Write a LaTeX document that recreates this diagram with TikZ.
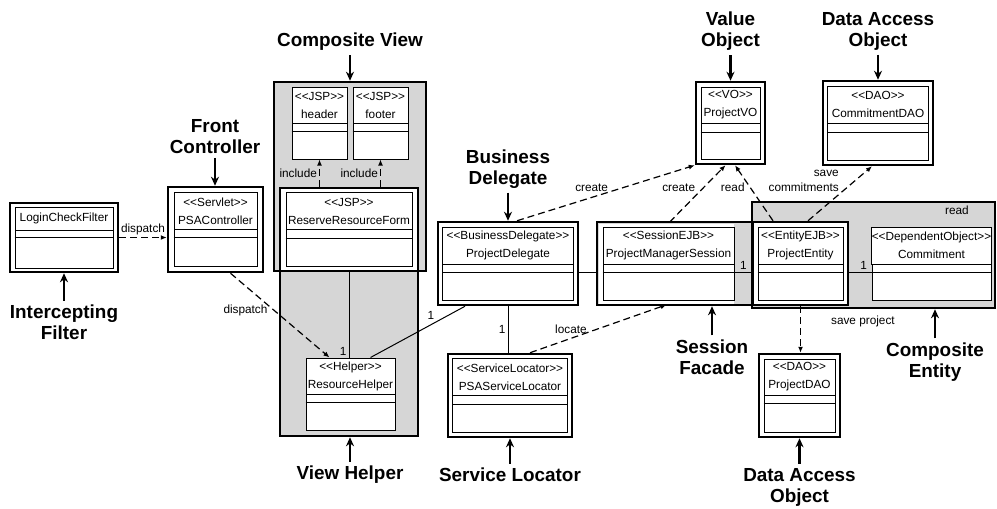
\documentclass[tikz,border=0pt]{standalone}
\usepackage{fontspec}
\setmainfont{Liberation Sans}
\usepackage{tikz}
\usetikzlibrary{arrows.meta, positioning}
\definecolor{patgray}{RGB}{214,214,214}
\newcommand{\classfont}{\fontsize{11.8}{18}\selectfont}
\newcommand{\confont}{\fontsize{11.8}{15}\selectfont}
\newcommand{\patfont}{\fontsize{18.9}{21}\selectfont\bfseries}
\newcommand{\stereo}[1]{<\kern0pt<#1>\kern0pt>}
\tikzset{
  patbox/.style={rectangle, draw=black, fill=patgray, line width=2.5pt, inner sep=0pt},
  classframe/.style={rectangle, draw=black, fill=white, line width=2.5pt, inner sep=0pt},
  classbox/.style={rectangle, draw=black, fill=white, line width=1pt, inner sep=0pt},
  namebox/.style={rectangle, draw=black, fill=white, line width=1pt, inner sep=0pt,
    align=center, font=\classfont},
  divider/.style={line width=1pt},
  patlabel/.style={align=center, font=\patfont, inner sep=4pt},
  conlabel/.style={font=\confont, inner sep=2pt},
  patarrow/.style={-{Stealth[length=9pt, width=8pt]}, line width=2.5pt},
  dep/.style={-{Latex[length=6pt, width=5pt]}, dash pattern=on 7pt off 4pt, line width=1.2pt},
  assoc/.style={line width=1pt}
}

\begin{document}
\begin{tikzpicture}[x=1pt, y=-1pt]
  \useasboundingbox (0,0) rectangle (997,509);

  % Pattern regions
  \node[patbox, minimum width=152pt, minimum height=189pt] (compview) at (350,176.5) {};
  \node[patbox, minimum width=138pt, minimum height=248pt] (viewhelper) at (349,312) {};
  \node[patbox, minimum width=251pt, minimum height=83pt] (facade) at (722.5,263.5) {};
  \node[patbox, minimum width=243pt, minimum height=106pt] (compentity) at (873.5,255) {};

  % Intercepting filter
  \node[classframe, minimum width=108pt, minimum height=69pt] (filter) at (64,237.5) {};
  \node[classbox, minimum width=98pt, minimum height=61pt] (filter-in) at (filter.center) {};
  \node[namebox, minimum width=98pt, minimum height=23pt, anchor=north] (filter-name) at (filter-in.north) {LoginCheckFilter};
  \draw[divider] ([yshift=-7pt]filter-name.south west) -- ([yshift=-7pt]filter-name.south east);

  % Front controller
  \node[classframe, minimum width=95pt, minimum height=85pt] (psactrl) at (215.5,229.5) {};
  \node[classbox, minimum width=83pt, minimum height=74pt] (psactrl-in) at (psactrl.center) {};
  \node[namebox, minimum width=83pt, minimum height=37pt, anchor=north] (psactrl-name) at (psactrl-in.north) {\stereo{Servlet}\\PSAController};
  \draw[divider] ([yshift=-7pt]psactrl-name.south west) -- ([yshift=-7pt]psactrl-name.south east);

  % Composite view: header and footer
  \node[classbox, minimum width=55pt, minimum height=72pt] (header) at (319.5,123) {};
  \node[namebox, minimum width=55pt, minimum height=36pt, anchor=north] (header-name) at (header.north) {\stereo{JSP}\\header};
  \draw[divider] ([yshift=-8pt]header-name.south west) -- ([yshift=-8pt]header-name.south east);
  \node[classbox, minimum width=55pt, minimum height=72pt] (footer) at (380.5,123) {};
  \node[namebox, minimum width=55pt, minimum height=36pt, anchor=north] (footer-name) at (footer.north) {\stereo{JSP}\\footer};
  \draw[divider] ([yshift=-8pt]footer-name.south west) -- ([yshift=-8pt]footer-name.south east);

  % JSP form
  \node[classframe, minimum width=138pt, minimum height=83pt] (form) at (349,229.5) {};
  \node[classbox, minimum width=126pt, minimum height=74pt] (form-in) at (form.center) {};
  \node[namebox, minimum width=126pt, minimum height=37pt, anchor=north] (form-name) at (form-in.north) {\stereo{JSP}\\ReserveResourceForm};
  \draw[divider] ([yshift=-8pt]form-name.south west) -- ([yshift=-8pt]form-name.south east);

  % View helper
  \node[classbox, minimum width=89pt, minimum height=72pt] (helper) at (350.5,394) {};
  \node[namebox, minimum width=89pt, minimum height=36pt, anchor=north] (helper-name) at (helper.north) {\stereo{Helper}\\ResourceHelper};
  \draw[divider] ([yshift=-8pt]helper-name.south west) -- ([yshift=-8pt]helper-name.south east);

  % Business delegate
  \node[classframe, minimum width=140pt, minimum height=83pt] (pdel) at (508,263.5) {};
  \node[classbox, minimum width=131pt, minimum height=73pt] (pdel-in) at (pdel.center) {};
  \node[namebox, minimum width=131pt, minimum height=37pt, anchor=north] (pdel-name) at (pdel-in.north) {\stereo{BusinessDelegate}\\ProjectDelegate};
  \draw[divider] ([yshift=-8pt]pdel-name.south west) -- ([yshift=-8pt]pdel-name.south east);

  % Service locator
  \node[classframe, minimum width=124pt, minimum height=83pt] (locator) at (510,395.5) {};
  \node[classbox, minimum width=115pt, minimum height=74pt] (locator-in) at (locator.center) {};
  \node[namebox, minimum width=115pt, minimum height=37pt, anchor=north] (locator-name) at (locator-in.north) {\stereo{ServiceLocator}\\PSAServiceLocator};
  \draw[divider] ([yshift=-8pt]locator-name.south west) -- ([yshift=-8pt]locator-name.south east);

  % Session facade
  \node[classframe, draw=none, minimum width=135pt, minimum height=80pt] (session) at (666.5,263.5) {};
  \node[classbox, minimum width=131pt, minimum height=73pt] (session-in) at ([xshift=2pt]session.center) {};
  \node[namebox, minimum width=131pt, minimum height=37pt, anchor=north] (session-name) at (session-in.north) {\stereo{SessionEJB}\\ProjectManagerSession};
  \draw[divider] ([yshift=-8pt]session-name.south west) -- ([yshift=-8pt]session-name.south east);

  % Composite entity
  \node[classframe, minimum width=95pt, minimum height=83pt] (entity) at (800.5,263.5) {};
  \node[classbox, minimum width=85pt, minimum height=73pt] (entity-in) at (entity.center) {};
  \node[namebox, minimum width=85pt, minimum height=37pt, anchor=north] (entity-name) at (entity-in.north) {\stereo{EntityEJB}\\ProjectEntity};
  \draw[divider] ([yshift=-8pt]entity-name.south west) -- ([yshift=-8pt]entity-name.south east);
  \node[classbox, minimum width=119pt, minimum height=73pt] (commit) at (931.5,263.5) {};
  \node[namebox, minimum width=119pt, minimum height=37pt, anchor=north] (commit-name) at (commit.north) {\stereo{DependentObject}\\Commitment};
  \draw[divider] ([yshift=-8pt]commit-name.south west) -- ([yshift=-8pt]commit-name.south east);
  \node[conlabel] (readlbl) at (957,210) {read};

  % Value object
  \node[classframe, minimum width=69pt, minimum height=82pt] (vo) at (730.5,123) {};
  \node[classbox, minimum width=59pt, minimum height=72pt] (vo-in) at (vo.center) {};
  \node[namebox, minimum width=59pt, minimum height=36pt, anchor=north] (vo-name) at (vo-in.north) {\stereo{VO}\\ProjectVO};
  \draw[divider] ([yshift=-9pt]vo-name.south west) -- ([yshift=-9pt]vo-name.south east);

  % Data access objects
  \node[classframe, minimum width=110pt, minimum height=84pt] (cdao) at (878,123) {};
  \node[classbox, minimum width=101pt, minimum height=74pt] (cdao-in) at (cdao.center) {};
  \node[namebox, minimum width=101pt, minimum height=37pt, anchor=north] (cdao-name) at (cdao-in.north) {\stereo{DAO}\\CommitmentDAO};
  \draw[divider] ([yshift=-9pt]cdao-name.south west) -- ([yshift=-9pt]cdao-name.south east);
  \node[classframe, minimum width=81pt, minimum height=83pt] (pdao) at (799.5,395.5) {};
  \node[classbox, minimum width=71pt, minimum height=73pt] (pdao-in) at (pdao.center) {};
  \node[namebox, minimum width=71pt, minimum height=36pt, anchor=north] (pdao-name) at (pdao-in.north) {\stereo{DAO}\\ProjectDAO};
  \draw[divider] ([yshift=-8pt]pdao-name.south west) -- ([yshift=-8pt]pdao-name.south east);

  % Dependencies
  \draw[dep] (filter.east) -- node[conlabel, above] {dispatch} (filter.east -| psactrl.west);
  \draw[dep] ([xshift=15pt]psactrl.south) -- node[conlabel, pos=.44, left=4pt] {dispatch} ([xshift=-21pt]helper.north);
  \draw[dep] (header.south |- form.north) -- node[conlabel, left] {include} (header.south);
  \draw[dep] (footer.south |- form.north) -- node[conlabel, left] {include} (footer.south);
  \draw[dep] ([xshift=9pt]pdel.north) -- node[conlabel, pos=.42, above=3pt] {create} (vo.south west);
  \draw[dep] ([xshift=3pt]session.north) -- node[conlabel, pos=.61, left=6pt] {create} ([xshift=-5pt]vo.south);
  \draw[dep] ([xshift=-27.5pt]entity.north) -- node[conlabel, pos=.6, left=3pt] {read} ([xshift=4.5pt]vo.south);
  \draw[dep] ([xshift=7.5pt]entity.north) -- node[conlabel, pos=.74, left=14pt, align=right] {save\\commitments} ([xshift=-6pt]cdao.south);
  \draw[dep] (entity.south) -- node[conlabel, pos=.33, right=28pt] {save project} (entity.south |- pdao.north);
  \draw[dep] ([xshift=20pt]locator.north) -- node[conlabel, pos=.3, above=2pt] {locate} (session.south);

  % Associations
  \draw[assoc] (form.south) -- node[conlabel, pos=.93, left] {1} (form.south |- helper.north);
  \draw[assoc] ([xshift=-43pt]pdel.south) -- node[conlabel, pos=.3, above left] {1} ([xshift=20pt]helper.north);
  \draw[assoc] (pdel.south) -- node[conlabel, left] {1} (pdel.south |- locator.north);
  \draw[assoc] ([yshift=-8.5pt]pdel.east) -- ([yshift=-8.5pt]session.west);
  \draw[assoc] ([yshift=-8.5pt]session.east) -- node[conlabel, above] {1} ([yshift=-8.5pt]entity.west);
  \draw[assoc] ([yshift=-8.5pt]entity.east) -- node[conlabel, pos=.65, above] {1} ([yshift=-8.5pt]commit.west);

  % Pattern labels
  \node[patlabel] (iflabel) at (64,322.5) {Intercepting\\Filter};
  \node[patlabel] (fclabel) at (215,136.5) {Front\\Controller};
  \node[patlabel] (cvlabel) at (350,42) {Composite View};
  \node[patlabel] (vhlabel) at (350,475) {View Helper};
  \node[patlabel] (bdlabel) at (508,169) {Business\\Delegate};
  \node[patlabel] (sllabel) at (510,475) {Service Locator};
  \node[patlabel] (volabel) at (730.5,31.5) {Value\\Object};
  \node[patlabel] (cdaolabel) at (878,31.5) {Data Access\\Object};
  \node[patlabel] (sflabel) at (712,357) {Session\\Facade};
  \node[patlabel] (celabel) at (935,362) {Composite\\Entity};
  \node[patlabel] (pdaolabel) at (799.5,487) {Data Access\\Object};

  % Pointer arrows
  \draw[patarrow] (iflabel.north) -- (iflabel.north |- filter.south);
  \draw[patarrow] (fclabel.south) -- (fclabel.south |- psactrl.north);
  \draw[patarrow] (cvlabel.south) -- (cvlabel.south |- compview.north);
  \draw[patarrow] (vhlabel.north) -- (vhlabel.north |- viewhelper.south);
  \draw[patarrow] (bdlabel.south) -- (bdlabel.south |- pdel.north);
  \draw[patarrow] (sllabel.north) -- (sllabel.north |- locator.south);
  \draw[patarrow] (volabel.south) -- (volabel.south |- vo.north);
  \draw[patarrow] (cdaolabel.south) -- (cdaolabel.south |- cdao.north);
  \draw[patarrow] (sflabel.north) -- (sflabel.north |- facade.south);
  \draw[patarrow] (celabel.north) -- (celabel.north |- compentity.south);
  \draw[patarrow] (pdaolabel.north) -- (pdaolabel.north |- pdao.south);
\end{tikzpicture}
\end{document}
